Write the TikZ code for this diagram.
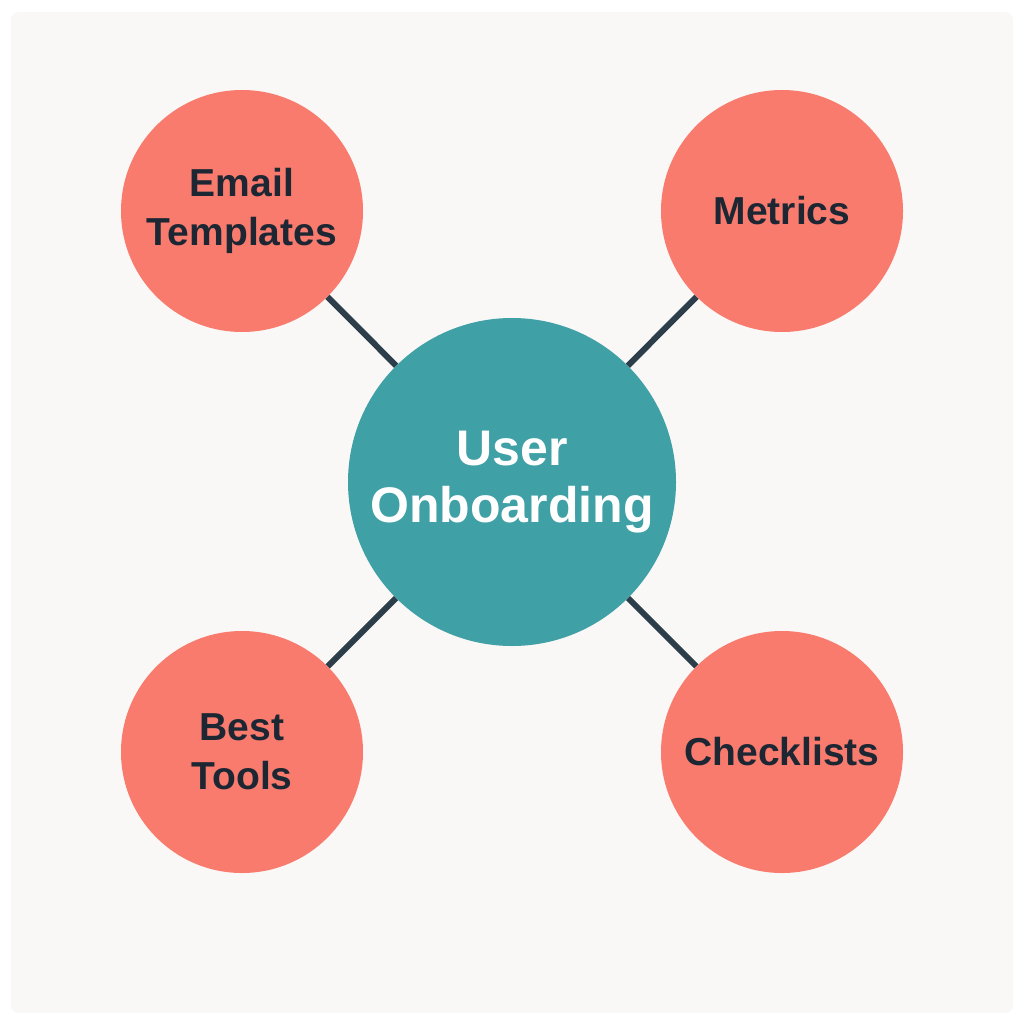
\documentclass[tikz,border=0pt]{standalone}
\usepackage{fontspec}
\setmainfont{Liberation Sans}
\definecolor{bgc}{HTML}{FAF8F6}
\definecolor{coral}{HTML}{F87B6E}
\definecolor{teal}{HTML}{3FA0A6}
\definecolor{linec}{HTML}{2C3E4A}
\definecolor{txt}{HTML}{1C2733}
\begin{document}
\begin{tikzpicture}[x=1pt,y=-1pt,
  leaf/.style={circle,fill=coral,minimum size=242pt,inner sep=0pt,align=center,text=txt,font=\bfseries\fontsize{39}{49}\selectfont},
  hub/.style={circle,fill=teal,minimum size=328pt,inner sep=0pt,align=center,text=white,font=\bfseries\fontsize{50}{57}\selectfont},
  link/.style={draw=linec,line width=6pt}]
\useasboundingbox (0,0) rectangle (1024,1022);
\fill[white] (0,0) rectangle (1024,1022);
\fill[bgc,rounded corners=8pt] (11,12) rectangle (1013,1013);
\node[hub] (hub) at (512,482) {User\\Onboarding};
\node[leaf] (email) at (242,211) {Email\\Templates};
\node[leaf] (metrics) at (782,211) {Metrics};
\node[leaf] (best) at (242,752) {Best\\Tools};
\node[leaf] (check) at (782,752) {Checklists};
\draw[link] (hub) -- (email);
\draw[link] (hub) -- (metrics);
\draw[link] (hub) -- (best);
\draw[link] (hub) -- (check);
\end{tikzpicture}
\end{document}
